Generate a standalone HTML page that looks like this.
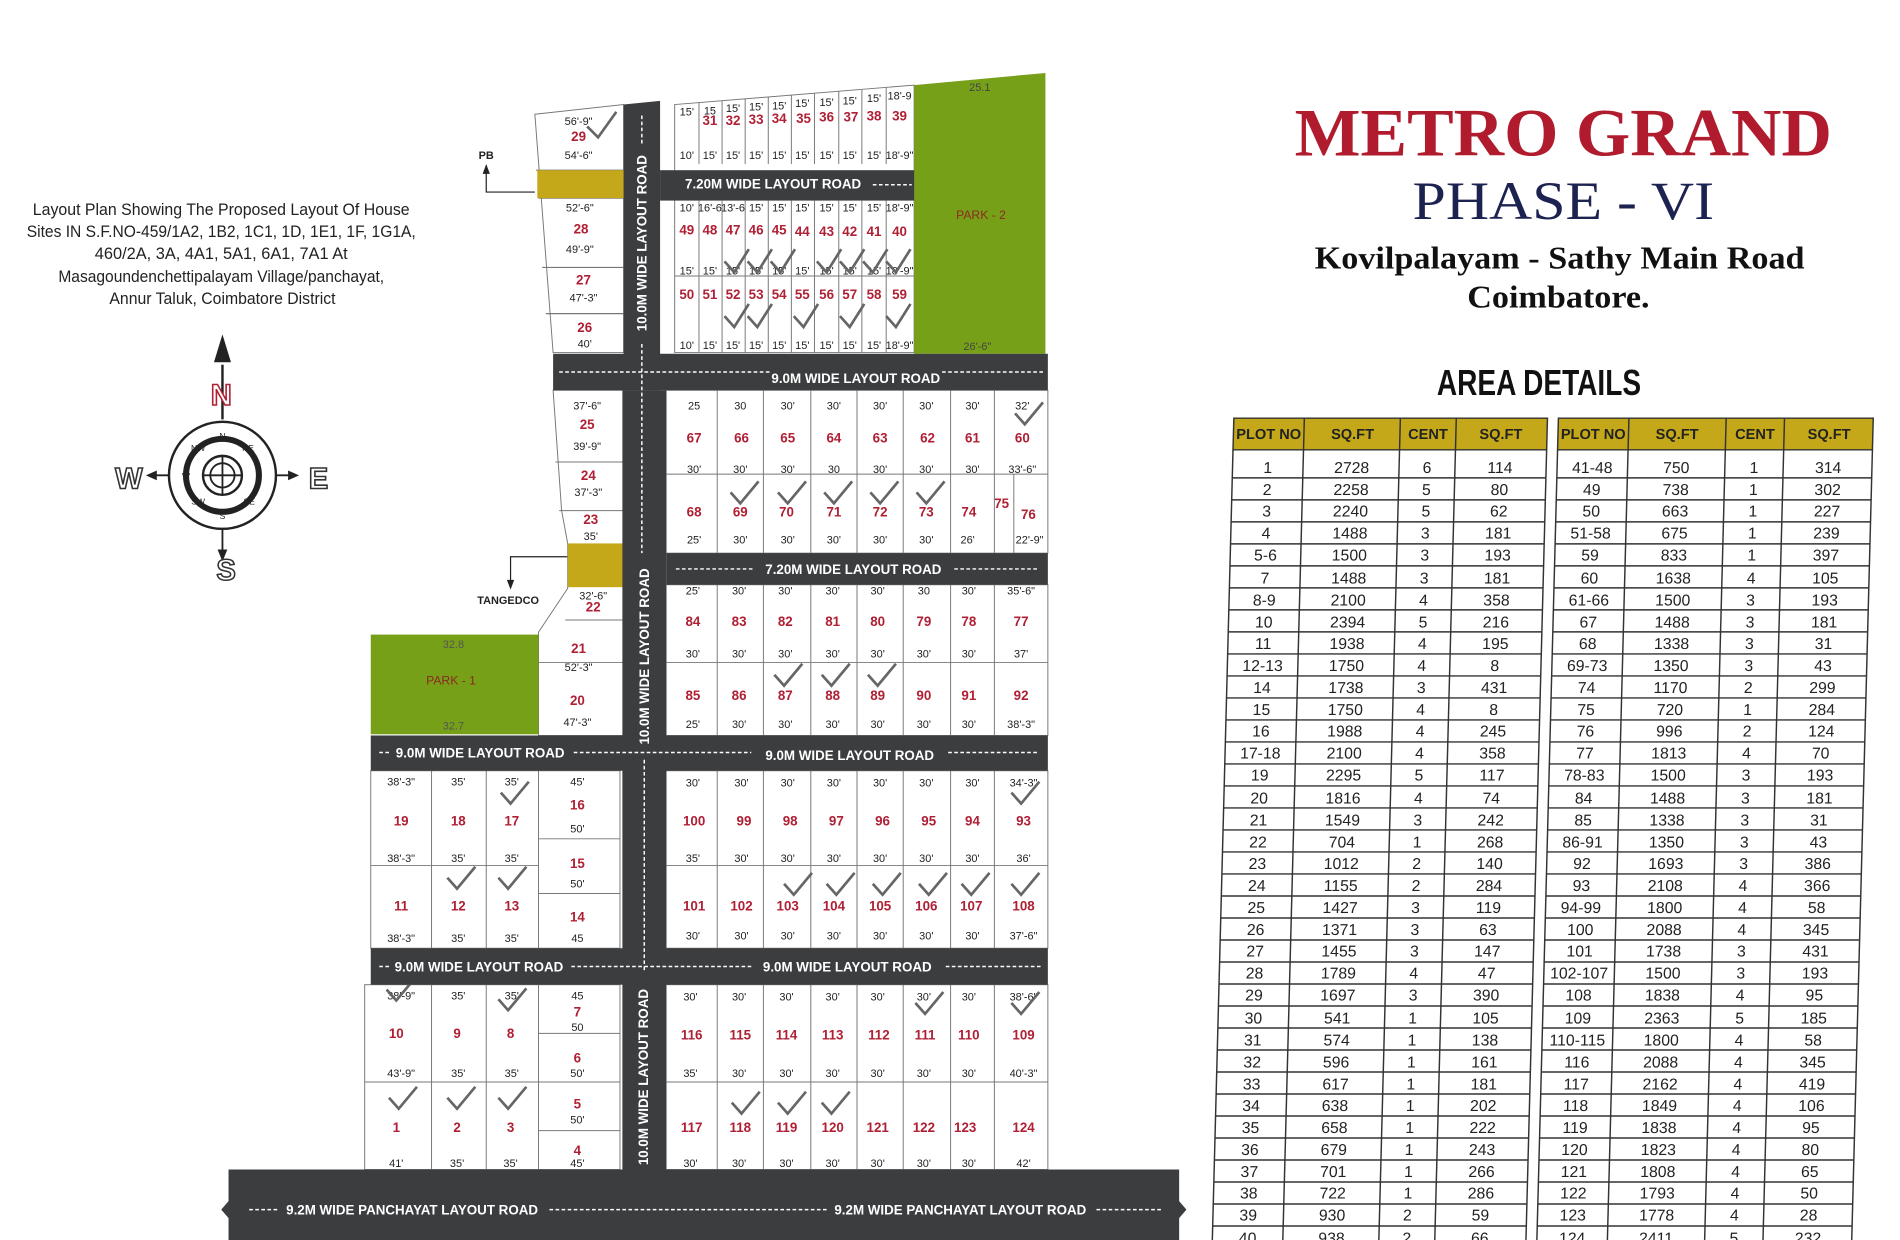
<!DOCTYPE html>
<html><head><meta charset="utf-8"><style>
html,body{margin:0;padding:0;background:#fff;width:1900px;height:1240px;overflow:hidden}
svg{display:block}
.pn{font:bold 11px "Liberation Sans",sans-serif;fill:#b02035;text-anchor:middle}
.d{font:9px "Liberation Sans",sans-serif;fill:#222;text-anchor:middle}
.rl{font:bold 11px "Liberation Sans",sans-serif;fill:#fff;text-anchor:middle}
.t{font:13px "Liberation Sans",sans-serif;fill:#222;text-anchor:middle}
.th{font:bold 12px "Liberation Sans",sans-serif;fill:#222;text-anchor:middle}
.pl{fill:#fff;stroke:#777;stroke-width:0.8}
.ck{fill:none;stroke:#666;stroke-width:2.2}
</style></head><body>
<svg width="1900" height="1240" viewBox="0 0 1563 1020" preserveAspectRatio="none" xmlns="http://www.w3.org/2000/svg">
<rect width="1563" height="1020" fill="#fff"/>

<g font-family="Liberation Sans, sans-serif" font-size="14" fill="#222" text-anchor="middle">
<text x="182" y="177" textLength="310" lengthAdjust="spacingAndGlyphs">Layout Plan Showing The Proposed Layout Of House</text>
<text x="182" y="195" textLength="320" lengthAdjust="spacingAndGlyphs">Sites IN S.F.NO-459/1A2, 1B2, 1C1, 1D, 1E1, 1F, 1G1A,</text>
<text x="182" y="213" textLength="208" lengthAdjust="spacingAndGlyphs">460/2A, 3A, 4A1, 5A1, 6A1, 7A1 At</text>
<text x="182" y="232" textLength="268" lengthAdjust="spacingAndGlyphs">Masagoundenchettipalayam Village/panchayat,</text>
<text x="183" y="250" textLength="186" lengthAdjust="spacingAndGlyphs">Annur Taluk, Coimbatore District</text>
</g>

<g>
<line x1="183" y1="300" x2="183" y2="345" stroke="#222" stroke-width="2"/>
<polygon points="183,275 176,298 190,298" fill="#222"/>
<line x1="183" y1="435" x2="183" y2="455" stroke="#222" stroke-width="1.5"/>
<polygon points="183,462 179,452 187,452" fill="#222"/>
<line x1="125" y1="391" x2="139" y2="391" stroke="#222" stroke-width="1.5"/>
<polygon points="120,391 129,387 129,395" fill="#222"/>
<line x1="227" y1="391" x2="241" y2="391" stroke="#222" stroke-width="1.5"/>
<polygon points="246,391 237,387 237,395" fill="#222"/>
<circle cx="183" cy="391" r="44" fill="none" stroke="#222" stroke-width="2"/>
<circle cx="183" cy="391" r="30" fill="none" stroke="#222" stroke-width="5"/>
<circle cx="183" cy="391" r="16" fill="none" stroke="#222" stroke-width="2"/>
<circle cx="183" cy="391" r="10" fill="none" stroke="#222" stroke-width="1.5"/>
<line x1="167" y1="391" x2="199" y2="391" stroke="#222" stroke-width="1.5"/>
<line x1="183" y1="375" x2="183" y2="407" stroke="#222" stroke-width="1.5"/>
<g font-family="Liberation Sans,sans-serif" font-weight="bold" font-size="24" fill="#fff" stroke-width="1.3" text-anchor="middle">
<text x="182" y="333" stroke="#b02035">N</text>
<text x="186" y="477" stroke="#333">S</text>
<text x="106" y="402" stroke="#333">W</text>
<text x="262" y="402" stroke="#333">E</text>
</g>
<g font-family="Liberation Sans,sans-serif" font-size="7" fill="#222" text-anchor="middle">
<text x="183" y="361">N</text><text x="183" y="427">S</text><text x="153" y="394">W</text><text x="213" y="394">E</text>
<text x="163" y="371">NW</text><text x="204" y="371">NE</text><text x="163" y="415">SW</text><text x="205" y="415">SE</text>
</g>
</g>

<text x="400" y="131" font-family="Liberation Sans,sans-serif" font-size="9" font-weight="bold" fill="#222" text-anchor="middle">PB</text>
<polyline points="400,136 400,158 440,158" fill="none" stroke="#222" stroke-width="1"/>
<polygon points="400,135 397,143 403,143" fill="#222"/>
<text x="418" y="497" font-family="Liberation Sans,sans-serif" font-size="9" font-weight="bold" fill="#222" text-anchor="middle">TANGEDCO</text>
<polyline points="467,458 420,458 420,482" fill="none" stroke="#222" stroke-width="1"/>
<polygon points="420,485 417,477 423,477" fill="#222"/>

<polygon class="pl" points="440,94 513,86 513,290 455,290"/>
<line x1="441" y1="140" x2="513" y2="140" stroke="#777"/>
<line x1="443" y1="163" x2="513" y2="163" stroke="#777"/>
<line x1="446" y1="220" x2="513" y2="220" stroke="#777"/>
<line x1="449" y1="258" x2="513" y2="258" stroke="#777"/>
<rect x="442" y="140" width="71" height="23" fill="#c4a81a"/>
<text class="pn" x="476" y="116">29</text><text class="d" x="476" y="103">56'-9"</text><text class="d" x="476" y="131">54'-6"</text>
<text class="pn" x="478" y="192">28</text><text class="d" x="477" y="174">52'-6"</text><text class="d" x="477" y="208">49'-9"</text>
<text class="pn" x="480" y="234">27</text><text class="d" x="480" y="248">47'-3"</text>
<text class="pn" x="481" y="273">26</text><text class="d" x="481" y="286">40'</text>

<polygon class="pl" points="555,86 752,70 752,290 555,290"/>
<g stroke="#777" stroke-width="0.8">
<line x1="575" y1="84" x2="575" y2="135"/><line x1="594" y1="83" x2="594" y2="135"/><line x1="613" y1="81" x2="613" y2="135"/>
<line x1="632" y1="80" x2="632" y2="135"/><line x1="651" y1="78" x2="651" y2="135"/><line x1="670" y1="77" x2="670" y2="135"/>
<line x1="690" y1="75" x2="690" y2="135"/><line x1="709" y1="74" x2="709" y2="135"/><line x1="729" y1="72" x2="729" y2="135"/>
<line x1="575" y1="165" x2="575" y2="290"/><line x1="594" y1="165" x2="594" y2="290"/><line x1="613" y1="165" x2="613" y2="290"/>
<line x1="632" y1="165" x2="632" y2="290"/><line x1="651" y1="165" x2="651" y2="290"/><line x1="670" y1="165" x2="670" y2="290"/>
<line x1="690" y1="165" x2="690" y2="290"/><line x1="709" y1="165" x2="709" y2="290"/><line x1="729" y1="165" x2="729" y2="290"/>
<line x1="555" y1="227" x2="752" y2="227"/>
</g>
<g class="pn">
<text x="584" y="103">31</text><text x="603" y="103">32</text><text x="622" y="102">33</text><text x="641" y="101">34</text><text x="661" y="101">35</text><text x="680" y="100">36</text><text x="700" y="100">37</text><text x="719" y="99">38</text><text x="740" y="99">39</text>
<text x="565" y="193">49</text><text x="584" y="193">48</text><text x="603" y="193">47</text><text x="622" y="193">46</text><text x="641" y="193">45</text><text x="660" y="194">44</text><text x="680" y="194">43</text><text x="699" y="194">42</text><text x="719" y="194">41</text><text x="740" y="194">40</text>
<text x="565" y="246">50</text><text x="584" y="246">51</text><text x="603" y="246">52</text><text x="622" y="246">53</text><text x="641" y="246">54</text><text x="660" y="246">55</text><text x="680" y="246">56</text><text x="699" y="246">57</text><text x="719" y="246">58</text><text x="740" y="246">59</text>
</g>
<g class="d">
<text x="565" y="131">10'</text><text x="584" y="131">15'</text><text x="603" y="131">15'</text><text x="622" y="131">15'</text><text x="641" y="131">15'</text><text x="660" y="131">15'</text><text x="680" y="131">15'</text><text x="699" y="131">15'</text><text x="719" y="131">15'</text><text x="740" y="131">18'-9"</text>
<text x="565" y="95">15'</text><text x="584" y="94">15</text><text x="603" y="92">15'</text><text x="622" y="91">15'</text><text x="641" y="90">15'</text><text x="660" y="88">15'</text><text x="680" y="87">15'</text><text x="699" y="86">15'</text><text x="719" y="84">15'</text><text x="740" y="82">18'-9</text>
<text x="565" y="174">10'</text><text x="584" y="174">16'-6</text><text x="603" y="174">13'-6</text><text x="622" y="174">15'</text><text x="641" y="174">15'</text><text x="660" y="174">15'</text><text x="680" y="174">15'</text><text x="699" y="174">15'</text><text x="719" y="174">15'</text><text x="740" y="174">18'-9"</text>
<text x="565" y="226">15'</text><text x="584" y="226">15'</text><text x="603" y="226">15'</text><text x="622" y="226">15'</text><text x="641" y="226">15'</text><text x="660" y="226">15'</text><text x="680" y="226">15'</text><text x="699" y="226">15'</text><text x="719" y="226">15'</text><text x="740" y="226">18'-9"</text>
<text x="565" y="287">10'</text><text x="584" y="287">15'</text><text x="603" y="287">15'</text><text x="622" y="287">15'</text><text x="641" y="287">15'</text><text x="660" y="287">15'</text><text x="680" y="287">15'</text><text x="699" y="287">15'</text><text x="719" y="287">15'</text><text x="740" y="287">18'-9"</text>
</g>
<polygon points="752,70 860,60 860,291 752,291" fill="#77a019"/>
<text x="807" y="180" font-family="Liberation Sans,sans-serif" font-size="10" fill="#8a2a20" text-anchor="middle">PARK - 2</text>
<text x="806" y="75" font-family="Liberation Sans,sans-serif" font-size="9" fill="#444" text-anchor="middle">25.1</text>
<text x="804" y="288" font-family="Liberation Sans,sans-serif" font-size="9" fill="#444" text-anchor="middle">26'-6"</text>

<polygon class="pl" points="455,321 513,321 513,605 443,605 443,520 467,484 467,447 462,420"/>
<g stroke="#777" stroke-width="0.8">
<line x1="457" y1="380" x2="513" y2="380"/><line x1="460" y1="420" x2="513" y2="420"/>
<line x1="465" y1="510" x2="513" y2="510"/><line x1="443" y1="545" x2="513" y2="545"/>
</g>
<rect x="467" y="447" width="46" height="36" fill="#c4a81a"/>
<text class="pn" x="483" y="353">25</text><text class="d" x="483" y="337">37'-6"</text><text class="d" x="483" y="370">39'-9"</text>
<text class="pn" x="484" y="395">24</text><text class="d" x="484" y="408">37'-3"</text>
<text class="pn" x="486" y="431">23</text><text class="d" x="486" y="444">35'</text>
<text class="pn" x="488" y="503">22</text><text class="d" x="488" y="493">32'-6"</text>
<text class="pn" x="476" y="537">21</text><text class="d" x="476" y="552">52'-3"</text>
<text class="pn" x="475" y="580">20</text><text class="d" x="475" y="597">47'-3"</text>
<rect x="305" y="522" width="138" height="82" fill="#77a019"/>
<text x="371" y="563" font-family="Liberation Sans,sans-serif" font-size="10" fill="#8a2a20" text-anchor="middle">PARK - 1</text>
<text x="373" y="533" font-family="Liberation Sans,sans-serif" font-size="9" fill="#555" text-anchor="middle">32.8</text>
<text x="373" y="600" font-family="Liberation Sans,sans-serif" font-size="9" fill="#555" text-anchor="middle">32.7</text>

<rect class="pl" x="548" y="321" width="314" height="134"/>
<rect class="pl" x="548" y="481" width="314" height="124"/>
<g stroke="#777" stroke-width="0.8">
<line x1="590" y1="321" x2="590" y2="605"/><line x1="628" y1="321" x2="628" y2="605"/><line x1="667" y1="321" x2="667" y2="605"/>
<line x1="705" y1="321" x2="705" y2="605"/><line x1="743" y1="321" x2="743" y2="605"/><line x1="782" y1="321" x2="782" y2="605"/>
<line x1="818" y1="321" x2="818" y2="605"/><line x1="834" y1="390" x2="834" y2="455"/>
<line x1="548" y1="390" x2="862" y2="390"/><line x1="548" y1="545" x2="862" y2="545"/>
</g>
<g class="pn">
<text x="571" y="364">67</text><text x="610" y="364">66</text><text x="648" y="364">65</text><text x="686" y="364">64</text><text x="724" y="364">63</text><text x="763" y="364">62</text><text x="800" y="364">61</text><text x="841" y="364">60</text>
<text x="571" y="425">68</text><text x="609" y="425">69</text><text x="647" y="425">70</text><text x="686" y="425">71</text><text x="724" y="425">72</text><text x="762" y="425">73</text><text x="797" y="425">74</text><text x="824" y="418">75</text><text x="846" y="427">76</text>
<text x="570" y="515">84</text><text x="608" y="515">83</text><text x="646" y="515">82</text><text x="685" y="515">81</text><text x="722" y="515">80</text><text x="760" y="515">79</text><text x="797" y="515">78</text><text x="840" y="515">77</text>
<text x="570" y="576">85</text><text x="608" y="576">86</text><text x="646" y="576">87</text><text x="685" y="576">88</text><text x="722" y="576">89</text><text x="760" y="576">90</text><text x="797" y="576">91</text><text x="840" y="576">92</text>
</g>
<g class="d">
<text x="571" y="337">25</text><text x="609" y="337">30</text><text x="648" y="337">30'</text><text x="686" y="337">30'</text><text x="724" y="337">30'</text><text x="762" y="337">30'</text><text x="800" y="337">30'</text><text x="841" y="337">32'</text>
<text x="571" y="389">30'</text><text x="609" y="389">30'</text><text x="648" y="389">30'</text><text x="686" y="389">30</text><text x="724" y="389">30'</text><text x="762" y="389">30'</text><text x="800" y="389">30'</text><text x="841" y="389">33'-6"</text>
<text x="571" y="447">25'</text><text x="609" y="447">30'</text><text x="648" y="447">30'</text><text x="686" y="447">30'</text><text x="724" y="447">30'</text><text x="762" y="447">30'</text><text x="796" y="447">26'</text><text x="847" y="447">22'-9"</text>
<text x="570" y="489">25'</text><text x="608" y="489">30'</text><text x="646" y="489">30'</text><text x="685" y="489">30'</text><text x="722" y="489">30'</text><text x="760" y="489">30</text><text x="797" y="489">30'</text><text x="840" y="489">35'-6"</text>
<text x="570" y="541">30'</text><text x="608" y="541">30'</text><text x="646" y="541">30'</text><text x="685" y="541">30'</text><text x="722" y="541">30'</text><text x="760" y="541">30'</text><text x="797" y="541">30'</text><text x="840" y="541">37'</text>
<text x="570" y="599">25'</text><text x="608" y="599">30'</text><text x="646" y="599">30'</text><text x="685" y="599">30'</text><text x="722" y="599">30'</text><text x="760" y="599">30'</text><text x="797" y="599">30'</text><text x="840" y="599">38'-3"</text>
</g>

<rect class="pl" x="305" y="634" width="205" height="146"/>
<rect class="pl" x="300" y="810" width="210" height="152"/>
<g stroke="#777" stroke-width="0.8">
<line x1="355" y1="634" x2="355" y2="780"/><line x1="400" y1="634" x2="400" y2="780"/><line x1="443" y1="634" x2="443" y2="780"/>
<line x1="305" y1="712" x2="443" y2="712"/><line x1="443" y1="690" x2="510" y2="690"/><line x1="443" y1="735" x2="510" y2="735"/>
<line x1="355" y1="810" x2="355" y2="962"/><line x1="400" y1="810" x2="400" y2="962"/><line x1="443" y1="810" x2="443" y2="962"/>
<line x1="300" y1="890" x2="510" y2="890"/><line x1="443" y1="850" x2="510" y2="850"/><line x1="443" y1="930" x2="510" y2="930"/>
</g>
<g class="pn">
<text x="330" y="679">19</text><text x="377" y="679">18</text><text x="421" y="679">17</text><text x="475" y="666">16</text><text x="475" y="714">15</text><text x="475" y="758">14</text>
<text x="330" y="749">11</text><text x="377" y="749">12</text><text x="421" y="749">13</text>
<text x="326" y="854">10</text><text x="376" y="854">9</text><text x="420" y="854">8</text><text x="475" y="836">7</text><text x="475" y="874">6</text><text x="475" y="912">5</text><text x="475" y="950">4</text>
<text x="326" y="931">1</text><text x="376" y="931">2</text><text x="420" y="931">3</text>
</g>
<g class="d">
<text x="330" y="646">38'-3"</text><text x="377" y="646">35'</text><text x="421" y="646">35'</text><text x="475" y="646">45'</text><text x="475" y="685">50'</text><text x="475" y="730">50'</text><text x="475" y="775">45</text>
<text x="330" y="709">38'-3"</text><text x="377" y="709">35'</text><text x="421" y="709">35'</text>
<text x="330" y="775">38'-3"</text><text x="377" y="775">35'</text><text x="421" y="775">35'</text>
<text x="330" y="822">38'-9"</text><text x="377" y="822">35'</text><text x="421" y="822">35'</text><text x="475" y="822">45</text><text x="475" y="848">50</text><text x="475" y="886">50'</text><text x="475" y="924">50'</text>
<text x="330" y="886">43'-9"</text><text x="377" y="886">35'</text><text x="421" y="886">35'</text>
<text x="326" y="960">41'</text><text x="376" y="960">35'</text><text x="420" y="960">35'</text><text x="475" y="960">45'</text>
</g>

<rect class="pl" x="548" y="634" width="314" height="146"/>
<rect class="pl" x="548" y="810" width="314" height="152"/>
<g stroke="#777" stroke-width="0.8">
<line x1="590" y1="634" x2="590" y2="780"/><line x1="628" y1="634" x2="628" y2="780"/><line x1="667" y1="634" x2="667" y2="780"/>
<line x1="705" y1="634" x2="705" y2="780"/><line x1="743" y1="634" x2="743" y2="780"/><line x1="782" y1="634" x2="782" y2="780"/><line x1="818" y1="634" x2="818" y2="780"/>
<line x1="548" y1="712" x2="862" y2="712"/>
<line x1="590" y1="810" x2="590" y2="962"/><line x1="628" y1="810" x2="628" y2="962"/><line x1="667" y1="810" x2="667" y2="962"/>
<line x1="705" y1="810" x2="705" y2="962"/><line x1="743" y1="810" x2="743" y2="962"/><line x1="782" y1="810" x2="782" y2="962"/><line x1="818" y1="810" x2="818" y2="962"/>
<line x1="548" y1="890" x2="862" y2="890"/>
</g>
<g class="pn">
<text x="571" y="679">100</text><text x="612" y="679">99</text><text x="650" y="679">98</text><text x="688" y="679">97</text><text x="726" y="679">96</text><text x="764" y="679">95</text><text x="800" y="679">94</text><text x="842" y="679">93</text>
<text x="571" y="749">101</text><text x="610" y="749">102</text><text x="648" y="749">103</text><text x="686" y="749">104</text><text x="724" y="749">105</text><text x="762" y="749">106</text><text x="799" y="749">107</text><text x="842" y="749">108</text>
<text x="569" y="855">116</text><text x="609" y="855">115</text><text x="647" y="855">114</text><text x="685" y="855">113</text><text x="723" y="855">112</text><text x="761" y="855">111</text><text x="797" y="855">110</text><text x="842" y="855">109</text>
<text x="569" y="931">117</text><text x="609" y="931">118</text><text x="647" y="931">119</text><text x="685" y="931">120</text><text x="722" y="931">121</text><text x="760" y="931">122</text><text x="794" y="931">123</text><text x="842" y="931">124</text>
</g>
<g class="d">
<text x="570" y="647">30'</text><text x="610" y="647">30'</text><text x="648" y="647">30'</text><text x="686" y="647">30'</text><text x="724" y="647">30'</text><text x="762" y="647">30'</text><text x="800" y="647">30'</text><text x="842" y="647">34'-3"</text>
<text x="570" y="709">35'</text><text x="610" y="709">30'</text><text x="648" y="709">30'</text><text x="686" y="709">30'</text><text x="724" y="709">30'</text><text x="762" y="709">30'</text><text x="800" y="709">30'</text><text x="842" y="709">36'</text>
<text x="570" y="773">30'</text><text x="610" y="773">30'</text><text x="648" y="773">30'</text><text x="686" y="773">30'</text><text x="724" y="773">30'</text><text x="762" y="773">30'</text><text x="800" y="773">30'</text><text x="842" y="773">37'-6"</text>
<text x="568" y="823">30'</text><text x="608" y="823">30'</text><text x="647" y="823">30'</text><text x="685" y="823">30'</text><text x="722" y="823">30'</text><text x="760" y="823">30'</text><text x="797" y="823">30'</text><text x="842" y="823">38'-6"</text>
<text x="568" y="886">35'</text><text x="608" y="886">30'</text><text x="647" y="886">30'</text><text x="685" y="886">30'</text><text x="722" y="886">30'</text><text x="760" y="886">30'</text><text x="797" y="886">30'</text><text x="842" y="886">40'-3"</text>
<text x="568" y="960">30'</text><text x="608" y="960">30'</text><text x="647" y="960">30'</text><text x="685" y="960">30'</text><text x="722" y="960">30'</text><text x="760" y="960">30'</text><text x="797" y="960">30'</text><text x="842" y="960">42'</text>
</g>

<g class="ck">
<polyline points="483,104 492,113 507,92"/>
<polyline points="596,215 604,224 616,205"/><polyline points="615,215 623,224 635,205"/><polyline points="634,215 642,224 654,205"/><polyline points="672,215 680,224 692,205"/><polyline points="691,215 699,224 711,205"/><polyline points="710,215 718,224 730,205"/><polyline points="729,215 737,224 749,205"/>
<polyline points="596,260 604,269 616,250"/><polyline points="615,260 623,269 635,250"/><polyline points="653,260 661,269 673,250"/><polyline points="691,260 699,269 711,250"/><polyline points="729,260 737,269 749,250"/>
<polyline points="601,405 609,414 624,396"/><polyline points="640,405 648,414 663,396"/><polyline points="678,405 686,414 701,396"/><polyline points="716,405 724,414 739,396"/><polyline points="754,405 762,414 777,396"/><polyline points="835,340 843,349 858,331"/>
<polyline points="637,555 645,564 660,546"/><polyline points="676,555 684,564 699,546"/><polyline points="714,555 722,564 737,546"/>
<polyline points="412,652 420,661 435,643"/><polyline points="368,722 376,731 391,713"/><polyline points="410,722 418,731 433,713"/>
<polyline points="645,727 653,736 668,718"/><polyline points="680,727 688,736 703,718"/><polyline points="718,727 726,736 741,718"/><polyline points="756,727 764,736 779,718"/><polyline points="791,727 799,736 814,718"/><polyline points="832,652 840,661 855,643"/><polyline points="832,727 840,736 855,718"/>
<polyline points="318,814 326,823 341,805"/><polyline points="410,822 418,831 433,813"/><polyline points="753,825 761,834 776,816"/><polyline points="832,825 840,834 855,816"/>
<polyline points="320,903 328,912 343,894"/><polyline points="368,903 376,912 391,894"/><polyline points="410,903 418,912 433,894"/><polyline points="602,907 610,916 625,898"/><polyline points="640,907 648,916 663,898"/><polyline points="676,907 684,916 699,898"/>
</g>

<g fill="#3b3d3f">
<polygon points="513,86 543,83 543,321 513,321"/>
<rect x="543" y="140" width="209" height="25"/>
<rect x="455" y="291" width="407" height="30"/>
<rect x="512" y="321" width="36" height="641"/>
<rect x="548" y="455" width="314" height="26"/>
<rect x="305" y="605" width="557" height="29"/>
<rect x="305" y="780" width="557" height="30"/>
<polygon points="188,962 970,962 970,988 976,995 970,1002 970,1020 188,1020 188,1002 182,995 188,988"/>
</g>
<g stroke="#fff" stroke-width="1.2" stroke-dasharray="3,2" fill="none">
<line x1="528" y1="95" x2="528" y2="118"/><line x1="528" y1="283" x2="528" y2="455"/><line x1="530" y1="625" x2="530" y2="800"/>
<line x1="460" y1="306" x2="635" y2="306"/><line x1="775" y1="306" x2="858" y2="306"/>
<line x1="718" y1="152" x2="750" y2="152"/><line x1="556" y1="468" x2="620" y2="468"/><line x1="785" y1="468" x2="855" y2="468"/>
<line x1="312" y1="619" x2="322" y2="619"/><line x1="472" y1="619" x2="618" y2="619"/><line x1="780" y1="619" x2="855" y2="619"/>
<line x1="312" y1="795" x2="322" y2="795"/><line x1="470" y1="795" x2="618" y2="795"/><line x1="778" y1="795" x2="858" y2="795"/>
<line x1="205" y1="995" x2="228" y2="995"/><line x1="452" y1="995" x2="680" y2="995"/><line x1="902" y1="995" x2="955" y2="995"/>
</g>
<g class="rl">
<text x="636" y="155">7.20M WIDE LAYOUT ROAD</text>
<text x="704" y="315">9.0M WIDE LAYOUT ROAD</text>
<text x="702" y="472">7.20M WIDE LAYOUT ROAD</text>
<text x="395" y="623">9.0M WIDE LAYOUT ROAD</text>
<text x="699" y="625">9.0M WIDE LAYOUT ROAD</text>
<text x="394" y="799">9.0M WIDE LAYOUT ROAD</text>
<text x="697" y="799">9.0M WIDE LAYOUT ROAD</text>
<text x="339" y="999">9.2M WIDE PANCHAYAT LAYOUT ROAD</text>
<text x="790" y="999">9.2M WIDE PANCHAYAT LAYOUT ROAD</text>
<text transform="translate(532,200) rotate(-90)">10.0M WIDE LAYOUT ROAD</text>
<text transform="translate(534,540) rotate(-90)">10.0M WIDE LAYOUT ROAD</text>
<text transform="translate(533,886) rotate(-90)">10.0M WIDE LAYOUT ROAD</text>
</g>

<text x="1286" y="128" font-family="Liberation Serif,serif" font-weight="bold" font-size="56" fill="#b01c2e" text-anchor="middle" textLength="442" lengthAdjust="spacingAndGlyphs">METRO GRAND</text>
<text x="1286" y="180" font-family="Liberation Serif,serif" font-size="44" fill="#1d2350" text-anchor="middle" textLength="248" lengthAdjust="spacingAndGlyphs">PHASE  - VI</text>
<text x="1283" y="221" font-family="Liberation Serif,serif" font-weight="bold" font-size="26" fill="#111" text-anchor="middle" textLength="403" lengthAdjust="spacingAndGlyphs">Kovilpalayam - Sathy Main Road</text>
<text x="1282" y="253" font-family="Liberation Serif,serif" font-weight="bold" font-size="26" fill="#111" text-anchor="middle" textLength="150" lengthAdjust="spacingAndGlyphs">Coimbatore.</text>
<text x="1266" y="325" font-family="Liberation Sans,sans-serif" font-weight="bold" font-size="30" fill="#111" text-anchor="middle" textLength="168" lengthAdjust="spacingAndGlyphs">AREA DETAILS</text>

<g transform="translate(9,0) skewX(-1.5)">
<rect x="1015" y="344" width="258" height="26" fill="#c4a81a" stroke="#333" stroke-width="1.2"/>
<rect x="1282" y="344" width="259" height="26" fill="#c4a81a" stroke="#333" stroke-width="1.2"/>
<g class="th">
<text x="1044" y="361">PLOT NO</text><text x="1113" y="361">SQ.FT</text><text x="1175" y="361">CENT</text><text x="1235" y="361">SQ.FT</text>
<text x="1311" y="361">PLOT NO</text><text x="1380" y="361">SQ.FT</text><text x="1444" y="361">CENT</text><text x="1505" y="361">SQ.FT</text>
</g>
<g stroke="#333" stroke-width="1.2">
<line x1="1015" y1="370" x2="1015" y2="1030"/><line x1="1073" y1="344" x2="1073" y2="1030"/><line x1="1152" y1="344" x2="1152" y2="1030"/><line x1="1198" y1="344" x2="1198" y2="1030"/><line x1="1273" y1="370" x2="1273" y2="1030"/>
<line x1="1282" y1="370" x2="1282" y2="1030"/><line x1="1340" y1="344" x2="1340" y2="1030"/><line x1="1420" y1="344" x2="1420" y2="1030"/><line x1="1468" y1="344" x2="1468" y2="1030"/><line x1="1541" y1="370" x2="1541" y2="1030"/>
</g>
<g stroke="#333" stroke-width="1.2">
<path d="M1015 393.1H1273M1015 411.2H1273M1015 429.3H1273M1015 447.4H1273M1015 465.5H1273M1015 483.6H1273M1015 501.7H1273M1015 519.8H1273M1015 537.9H1273M1015 556H1273M1015 574.1H1273M1015 592.2H1273M1015 610.3H1273M1015 628.4H1273M1015 646.5H1273M1015 664.6H1273M1015 682.7H1273M1015 700.8H1273M1015 718.9H1273M1015 737H1273M1015 755.1H1273M1015 773.2H1273M1015 791.3H1273M1015 809.4H1273M1015 827.5H1273M1015 845.6H1273M1015 863.7H1273M1015 881.8H1273M1015 899.9H1273M1015 918H1273M1015 936.1H1273M1015 954.2H1273M1015 972.3H1273M1015 990.4H1273M1015 1008.5H1273"/>
<path d="M1282 393.1H1541M1282 411.2H1541M1282 429.3H1541M1282 447.4H1541M1282 465.5H1541M1282 483.6H1541M1282 501.7H1541M1282 519.8H1541M1282 537.9H1541M1282 556H1541M1282 574.1H1541M1282 592.2H1541M1282 610.3H1541M1282 628.4H1541M1282 646.5H1541M1282 664.6H1541M1282 682.7H1541M1282 700.8H1541M1282 718.9H1541M1282 737H1541M1282 755.1H1541M1282 773.2H1541M1282 791.3H1541M1282 809.4H1541M1282 827.5H1541M1282 845.6H1541M1282 863.7H1541M1282 881.8H1541M1282 899.9H1541M1282 918H1541M1282 936.1H1541M1282 954.2H1541M1282 972.3H1541M1282 990.4H1541M1282 1008.5H1541"/>
</g>
<g class="t">
<text x="1044" y="389">1</text><text x="1113" y="389">2728</text><text x="1175" y="389">6</text><text x="1235" y="389">114</text>
<text x="1044" y="407">2</text><text x="1113" y="407">2258</text><text x="1175" y="407">5</text><text x="1235" y="407">80</text>
<text x="1044" y="425">3</text><text x="1113" y="425">2240</text><text x="1175" y="425">5</text><text x="1235" y="425">62</text>
<text x="1044" y="443">4</text><text x="1113" y="443">1488</text><text x="1175" y="443">3</text><text x="1235" y="443">181</text>
<text x="1044" y="461">5-6</text><text x="1113" y="461">1500</text><text x="1175" y="461">3</text><text x="1235" y="461">193</text>
<text x="1044" y="480">7</text><text x="1113" y="480">1488</text><text x="1175" y="480">3</text><text x="1235" y="480">181</text>
<text x="1044" y="498">8-9</text><text x="1113" y="498">2100</text><text x="1175" y="498">4</text><text x="1235" y="498">358</text>
<text x="1044" y="516">10</text><text x="1113" y="516">2394</text><text x="1175" y="516">5</text><text x="1235" y="516">216</text>
<text x="1044" y="534">11</text><text x="1113" y="534">1938</text><text x="1175" y="534">4</text><text x="1235" y="534">195</text>
<text x="1044" y="552">12-13</text><text x="1113" y="552">1750</text><text x="1175" y="552">4</text><text x="1235" y="552">8</text>
<text x="1044" y="570">14</text><text x="1113" y="570">1738</text><text x="1175" y="570">3</text><text x="1235" y="570">431</text>
<text x="1044" y="588">15</text><text x="1113" y="588">1750</text><text x="1175" y="588">4</text><text x="1235" y="588">8</text>
<text x="1044" y="606">16</text><text x="1113" y="606">1988</text><text x="1175" y="606">4</text><text x="1235" y="606">245</text>
<text x="1044" y="624">17-18</text><text x="1113" y="624">2100</text><text x="1175" y="624">4</text><text x="1235" y="624">358</text>
<text x="1044" y="642">19</text><text x="1113" y="642">2295</text><text x="1175" y="642">5</text><text x="1235" y="642">117</text>
<text x="1044" y="661">20</text><text x="1113" y="661">1816</text><text x="1175" y="661">4</text><text x="1235" y="661">74</text>
<text x="1044" y="679">21</text><text x="1113" y="679">1549</text><text x="1175" y="679">3</text><text x="1235" y="679">242</text>
<text x="1044" y="697">22</text><text x="1113" y="697">704</text><text x="1175" y="697">1</text><text x="1235" y="697">268</text>
<text x="1044" y="715">23</text><text x="1113" y="715">1012</text><text x="1175" y="715">2</text><text x="1235" y="715">140</text>
<text x="1044" y="733">24</text><text x="1113" y="733">1155</text><text x="1175" y="733">2</text><text x="1235" y="733">284</text>
<text x="1044" y="751">25</text><text x="1113" y="751">1427</text><text x="1175" y="751">3</text><text x="1235" y="751">119</text>
<text x="1044" y="769">26</text><text x="1113" y="769">1371</text><text x="1175" y="769">3</text><text x="1235" y="769">63</text>
<text x="1044" y="787">27</text><text x="1113" y="787">1455</text><text x="1175" y="787">3</text><text x="1235" y="787">147</text>
<text x="1044" y="805">28</text><text x="1113" y="805">1789</text><text x="1175" y="805">4</text><text x="1235" y="805">47</text>
<text x="1044" y="823">29</text><text x="1113" y="823">1697</text><text x="1175" y="823">3</text><text x="1235" y="823">390</text>
<text x="1044" y="842">30</text><text x="1113" y="842">541</text><text x="1175" y="842">1</text><text x="1235" y="842">105</text>
<text x="1044" y="860">31</text><text x="1113" y="860">574</text><text x="1175" y="860">1</text><text x="1235" y="860">138</text>
<text x="1044" y="878">32</text><text x="1113" y="878">596</text><text x="1175" y="878">1</text><text x="1235" y="878">161</text>
<text x="1044" y="896">33</text><text x="1113" y="896">617</text><text x="1175" y="896">1</text><text x="1235" y="896">181</text>
<text x="1044" y="914">34</text><text x="1113" y="914">638</text><text x="1175" y="914">1</text><text x="1235" y="914">202</text>
<text x="1044" y="932">35</text><text x="1113" y="932">658</text><text x="1175" y="932">1</text><text x="1235" y="932">222</text>
<text x="1044" y="950">36</text><text x="1113" y="950">679</text><text x="1175" y="950">1</text><text x="1235" y="950">243</text>
<text x="1044" y="968">37</text><text x="1113" y="968">701</text><text x="1175" y="968">1</text><text x="1235" y="968">266</text>
<text x="1044" y="986">38</text><text x="1113" y="986">722</text><text x="1175" y="986">1</text><text x="1235" y="986">286</text>
<text x="1044" y="1004">39</text><text x="1113" y="1004">930</text><text x="1175" y="1004">2</text><text x="1235" y="1004">59</text>
<text x="1044" y="1023">40</text><text x="1113" y="1023">938</text><text x="1175" y="1023">2</text><text x="1235" y="1023">66</text>

<text x="1311" y="389">41-48</text><text x="1380" y="389">750</text><text x="1444" y="389">1</text><text x="1505" y="389">314</text>
<text x="1311" y="407">49</text><text x="1380" y="407">738</text><text x="1444" y="407">1</text><text x="1505" y="407">302</text>
<text x="1311" y="425">50</text><text x="1380" y="425">663</text><text x="1444" y="425">1</text><text x="1505" y="425">227</text>
<text x="1311" y="443">51-58</text><text x="1380" y="443">675</text><text x="1444" y="443">1</text><text x="1505" y="443">239</text>
<text x="1311" y="461">59</text><text x="1380" y="461">833</text><text x="1444" y="461">1</text><text x="1505" y="461">397</text>
<text x="1311" y="480">60</text><text x="1380" y="480">1638</text><text x="1444" y="480">4</text><text x="1505" y="480">105</text>
<text x="1311" y="498">61-66</text><text x="1380" y="498">1500</text><text x="1444" y="498">3</text><text x="1505" y="498">193</text>
<text x="1311" y="516">67</text><text x="1380" y="516">1488</text><text x="1444" y="516">3</text><text x="1505" y="516">181</text>
<text x="1311" y="534">68</text><text x="1380" y="534">1338</text><text x="1444" y="534">3</text><text x="1505" y="534">31</text>
<text x="1311" y="552">69-73</text><text x="1380" y="552">1350</text><text x="1444" y="552">3</text><text x="1505" y="552">43</text>
<text x="1311" y="570">74</text><text x="1380" y="570">1170</text><text x="1444" y="570">2</text><text x="1505" y="570">299</text>
<text x="1311" y="588">75</text><text x="1380" y="588">720</text><text x="1444" y="588">1</text><text x="1505" y="588">284</text>
<text x="1311" y="606">76</text><text x="1380" y="606">996</text><text x="1444" y="606">2</text><text x="1505" y="606">124</text>
<text x="1311" y="624">77</text><text x="1380" y="624">1813</text><text x="1444" y="624">4</text><text x="1505" y="624">70</text>
<text x="1311" y="642">78-83</text><text x="1380" y="642">1500</text><text x="1444" y="642">3</text><text x="1505" y="642">193</text>
<text x="1311" y="661">84</text><text x="1380" y="661">1488</text><text x="1444" y="661">3</text><text x="1505" y="661">181</text>
<text x="1311" y="679">85</text><text x="1380" y="679">1338</text><text x="1444" y="679">3</text><text x="1505" y="679">31</text>
<text x="1311" y="697">86-91</text><text x="1380" y="697">1350</text><text x="1444" y="697">3</text><text x="1505" y="697">43</text>
<text x="1311" y="715">92</text><text x="1380" y="715">1693</text><text x="1444" y="715">3</text><text x="1505" y="715">386</text>
<text x="1311" y="733">93</text><text x="1380" y="733">2108</text><text x="1444" y="733">4</text><text x="1505" y="733">366</text>
<text x="1311" y="751">94-99</text><text x="1380" y="751">1800</text><text x="1444" y="751">4</text><text x="1505" y="751">58</text>
<text x="1311" y="769">100</text><text x="1380" y="769">2088</text><text x="1444" y="769">4</text><text x="1505" y="769">345</text>
<text x="1311" y="787">101</text><text x="1380" y="787">1738</text><text x="1444" y="787">3</text><text x="1505" y="787">431</text>
<text x="1311" y="805">102-107</text><text x="1380" y="805">1500</text><text x="1444" y="805">3</text><text x="1505" y="805">193</text>
<text x="1311" y="823">108</text><text x="1380" y="823">1838</text><text x="1444" y="823">4</text><text x="1505" y="823">95</text>
<text x="1311" y="842">109</text><text x="1380" y="842">2363</text><text x="1444" y="842">5</text><text x="1505" y="842">185</text>
<text x="1311" y="860">110-115</text><text x="1380" y="860">1800</text><text x="1444" y="860">4</text><text x="1505" y="860">58</text>
<text x="1311" y="878">116</text><text x="1380" y="878">2088</text><text x="1444" y="878">4</text><text x="1505" y="878">345</text>
<text x="1311" y="896">117</text><text x="1380" y="896">2162</text><text x="1444" y="896">4</text><text x="1505" y="896">419</text>
<text x="1311" y="914">118</text><text x="1380" y="914">1849</text><text x="1444" y="914">4</text><text x="1505" y="914">106</text>
<text x="1311" y="932">119</text><text x="1380" y="932">1838</text><text x="1444" y="932">4</text><text x="1505" y="932">95</text>
<text x="1311" y="950">120</text><text x="1380" y="950">1823</text><text x="1444" y="950">4</text><text x="1505" y="950">80</text>
<text x="1311" y="968">121</text><text x="1380" y="968">1808</text><text x="1444" y="968">4</text><text x="1505" y="968">65</text>
<text x="1311" y="986">122</text><text x="1380" y="986">1793</text><text x="1444" y="986">4</text><text x="1505" y="986">50</text>
<text x="1311" y="1004">123</text><text x="1380" y="1004">1778</text><text x="1444" y="1004">4</text><text x="1505" y="1004">28</text>
<text x="1311" y="1023">124</text><text x="1380" y="1023">2411</text><text x="1444" y="1023">5</text><text x="1505" y="1023">232</text>
</g>
</g>
</svg>
</body></html>
